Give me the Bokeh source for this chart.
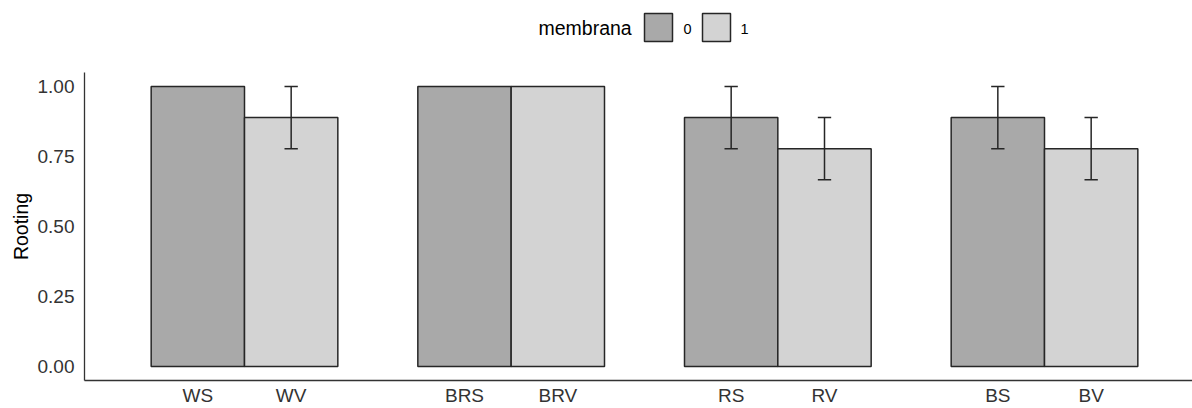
from bokeh.plotting import figure
from bokeh.layouts import column
from bokeh.models import Range1d, FixedTicker, NumeralTickFormatter, ColumnDataSource
from bokeh.core.properties import value
from bokeh.embed import file_html
from bokeh.resources import INLINE

# ---- data ----
groups = [1, 2, 3, 4]
labels_0 = ["WS", "BRS", "RS", "BS"]
labels_1 = ["WV", "BRV", "RV", "BV"]
rooting_0 = [1.0, 1.0, 0.889, 0.889]
se_0 = [0.0, 0.0, 0.111, 0.111]
rooting_1 = [0.889, 1.0, 0.778, 0.778]
se_1 = [0.111, 0.0, 0.111, 0.111]
y_ticks = [0.0, 0.25, 0.5, 0.75, 1.0]
legend_title = "membrana"
legend_levels = ["0", "1"]

FONT = "Liberation Sans"
DARK = "#A9A9A9"
LIGHT = "#D3D3D3"
EDGE = "#262626"
BW = 0.35
CAP = 0.025

W = 1192
LEG_H = 55
MAIN_H = 408 - LEG_H
LEFT = 84

# ---- legend strip ----
leg = figure(width=W, height=LEG_H, x_range=Range1d(LEFT, W), y_range=Range1d(LEG_H, 0),
             output_backend="svg", toolbar_location=None,
             min_border=0, min_border_left=LEFT, min_border_right=0,
             min_border_top=0, min_border_bottom=0)
leg.axis.visible = False
leg.grid.visible = False
leg.outline_line_color = None

leg.text(x=[538], y=[27.5], text=[legend_title], text_font=value(FONT),
         text_font_size="19.5px", text_baseline="middle", text_align="left", text_color="#000000")
leg.quad(left=[644, 702], right=[672, 730], top=[13, 13], bottom=[41, 41],
         fill_color=[DARK, LIGHT], line_color=EDGE, line_width=1.5)
leg.text(x=[683, 740], y=[28, 28], text=legend_levels, text_font=value(FONT),
         text_font_size="14.5px", text_baseline="middle", text_align="left", text_color="#000000")

# ---- main plot ----
p = figure(width=W, height=MAIN_H, x_range=Range1d(0.4, 4.555), y_range=Range1d(-0.05, 1.05),
           output_backend="svg", toolbar_location=None,
           min_border_left=LEFT, min_border_right=0, min_border_top=72 - LEG_H, min_border_bottom=26)
p.grid.visible = False
p.outline_line_color = None

x0 = [g - BW / 2 for g in groups]
x1 = [g + BW / 2 for g in groups]

p.vbar(x=x0, top=rooting_0, bottom=0, width=BW, fill_color=DARK, line_color=EDGE, line_width=1.5)
p.vbar(x=x1, top=rooting_1, bottom=0, width=BW, fill_color=LIGHT, line_color=EDGE, line_width=1.5)

for xs, ys, es in ((x0, rooting_0, se_0), (x1, rooting_1, se_1)):
    keep = [i for i, e in enumerate(es) if e > 0]
    xk = [xs[i] for i in keep]
    lo = [ys[i] - es[i] for i in keep]
    hi = [ys[i] + es[i] for i in keep]
    src = ColumnDataSource(dict(x=xk, lo=lo, hi=hi,
                                xl=[x - CAP for x in xk], xr=[x + CAP for x in xk]))
    p.segment(x0="x", y0="lo", x1="x", y1="hi", source=src, line_color=EDGE, line_width=1.5)
    p.segment(x0="xl", y0="lo", x1="xr", y1="lo", source=src, line_color=EDGE, line_width=1.5)
    p.segment(x0="xl", y0="hi", x1="xr", y1="hi", source=src, line_color=EDGE, line_width=1.5)

ticks = sorted(x0 + x1)
overrides = {}
for x, l in zip(x0, labels_0):
    overrides[x] = l
for x, l in zip(x1, labels_1):
    overrides[x] = l

p.xaxis.ticker = FixedTicker(ticks=ticks)
p.xaxis.major_label_overrides = overrides
p.yaxis.ticker = FixedTicker(ticks=y_ticks)
p.yaxis.formatter = NumeralTickFormatter(format="0.00")
p.yaxis.axis_label = "Rooting"

for ax in (p.xaxis, p.yaxis):
    ax.major_tick_line_color = None
    ax.minor_tick_line_color = None
    ax.major_tick_out = 0
    ax.major_tick_in = 0
    ax.axis_line_color = "#333333"
    ax.axis_line_width = 1.3
    ax.major_label_text_font = FONT
    ax.major_label_text_font_size = "19px"
    ax.major_label_text_color = "#333333"
    ax.axis_label_text_font = FONT
    ax.axis_label_text_font_size = "19.5px"
    ax.axis_label_text_font_style = "normal"
    ax.axis_label_text_color = "#000000"

p.xaxis.major_label_standoff = 4
p.yaxis.major_label_standoff = 10
p.yaxis.axis_label_standoff = 3

layout = column(leg, p, spacing=0)
open("out.html", "w").write(file_html(layout, INLINE))
